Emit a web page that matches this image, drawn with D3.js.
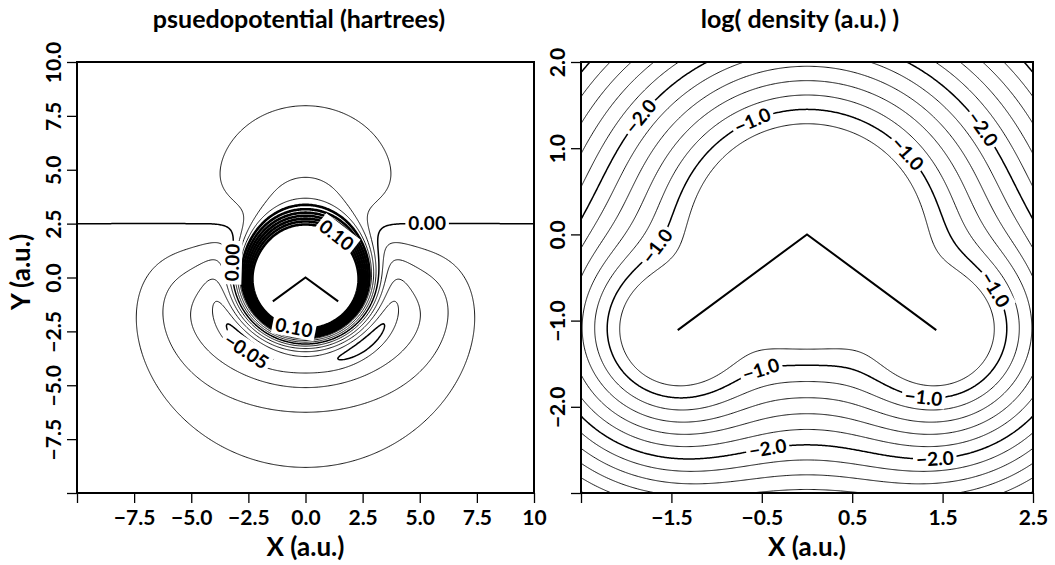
<!DOCTYPE html>
<html>
<head>
<meta charset="utf-8">
<script src="https://cdn.jsdelivr.net/npm/d3@7"></script>
<style>
  body { margin: 0; background: #fff; }
  svg { font-family: Lato, "DejaVu Sans", sans-serif; font-weight: 700; }
</style>
</head>
<body>
<script>
// water molecule, H - O - H (bohr)
const atomX = [-1.43, 0, 1.43]
const atomY = [-1.11, 0, -1.11]

// left panel: pseudopotential (hartrees)
const potLevels = [-0.05, -0.04, -0.03, -0.02, -0.01, 0.00, 0.01, 0.02, 0.03, 0.04, 0.05, 0.06, 0.07, 0.08, 0.09, 0.10]
const potBold = [-0.05, 0.00, 0.05, 0.10]
const potTicksX = [-10, -7.5, -5.0, -2.5, 0.0, 2.5, 5.0, 7.5, 10]
const potTickLabelsX = ["", "−7.5", "−5.0", "−2.5", "0.0", "2.5", "5.0", "7.5", "10"]
const potTicksY = [10, 7.5, 5.0, 2.5, 0.0, -2.5, -5.0, -7.5, -10]
const potTickLabelsY = ["10.0", "7.5", "5.0", "2.5", "0.0", "−2.5", "−5.0", "−7.5", ""]
const potLabels = [
  { level: 0.00, x: 5.3, y: 2.45, text: "0.00" },
  { level: 0.10, x: 1.25, y: 1.8, text: "0.10" },
  { level: 0.00, x: -2.9, y: 0.7, text: "0.00" },
  { level: 0.10, x: -0.5, y: -2.4, text: "0.10" },
  { level: -0.05, x: -2.7, y: -3.6, text: "−0.05" }
]

// fitted model of the potential
const dipoleTop = 0.966, dipoleBottom = 0.74, centerTop = -0.1, centerBottom = 0.6
const zeroLineY = 2.5, soft = 0.5, sideSpread = 0.3, taperR = 3.0
const wallHeight = 0.158, wallStart = 2.0, wallWidth = 1.06, wallTopCut = 0.25
const coreHeight = 0.1, coreR = 1.8
const wellDepth = 0.013, wellR = 4.05, wellAngles = [-2.30, -0.84]

// right panel: log( density )
const densLevels = [-0.8, -1.0, -1.2, -1.4, -1.6, -1.8, -2.0, -2.2, -2.4, -2.6, -2.8, -3.0, -3.2, -3.4]
const densBold = [-1.0, -2.0, -3.0]
const densTicksX = [-2.5, -1.5, -0.5, 0.5, 1.5, 2.5]
const densTickLabelsX = ["", "−1.5", "−0.5", "0.5", "1.5", "2.5"]
const densTicksY = [2.0, 1.0, 0.0, -1.0, -2.0, -3.0]
const densTickLabelsY = ["2.0", "1.0", "0.0", "−1.0", "−2.0", ""]
const densLabels = [
  { level: -2.0, x: -1.81, y: 1.35, text: "−2.0" },
  { level: -1.0, x: -0.6, y: 1.31, text: "−1.0" },
  { level: -2.0, x: 1.92, y: 1.21, text: "−2.0" },
  { level: -1.0, x: 1.13, y: 0.96, text: "−1.0" },
  { level: -1.0, x: -1.68, y: -0.12, text: "−1.0" },
  { level: -1.0, x: 2.07, y: -0.65, text: "−1.0" },
  { level: -1.0, x: -0.5, y: -1.61, text: "−1.0" },
  { level: -1.0, x: 1.29, y: -1.87, text: "−1.0" },
  { level: -2.0, x: -0.43, y: -2.52, text: "−2.0" },
  { level: -2.0, x: 1.42, y: -2.68, text: "−2.0" }
]
// log10 of atomic densities: value at nucleus and fall-off per bohr
const oLog = 0.74, oSlope = 1.2, hLog = 0.12, hSlope = 1.47

function potential(x, y) {
  const r = Math.hypot(x - atomX[1], y - atomY[1])
  const below = 1 / (1 + Math.exp((y - zeroLineY) / 1.5))
  const a = dipoleTop + (dipoleBottom - dipoleTop) * below
  const yc = centerTop + (centerBottom - centerTop) * below
  const spread = 1 + sideSpread * below * Math.exp(-(((r - 6.2) / 1.8) ** 2))
  const R2 = (x / spread) ** 2 + (y - yc) ** 2 + soft * soft
  const taper = 1 - Math.exp(-Math.pow(r / taperR, 4))
  const far = a * (y - zeroLineY) / Math.pow(R2, 1.5) * taper
  const up = ((y / (r || 1)) + 1) / 2
  const wall = wallHeight * (1 - wallTopCut * up * up) *
    Math.exp(-Math.pow(Math.max(0, r - wallStart) / wallWidth, 2))
  const core = coreHeight * Math.exp(-Math.pow(r / coreR, 4))
  let well = 0
  wellAngles.forEach(w => {
    let d = Math.atan2(y, x) - w
    d = Math.atan2(Math.sin(d), Math.cos(d))
    well -= wellDepth * Math.exp(-(((r - wellR) / 0.4) ** 2) - (d / 0.5) ** 2)
  })
  return far + wall + core + well
}

function logDensity(x, y) {
  let rho = 0
  atomX.forEach((ax, i) => {
    const r = Math.hypot(x - ax, y - atomY[i])
    rho += i === 1 ? Math.pow(10, oLog - oSlope * r) : Math.pow(10, hLog - hSlope * r)
  })
  return Math.log10(rho)
}

const svg = d3.select("body").append("svg").attr("width", 1055).attr("height", 565)

function drawPanel(p) {
  const xs = d3.scaleLinear().domain(p.xDomain).range(p.xRange)
  const ys = d3.scaleLinear().domain(p.yDomain).range(p.yRange)
  const n = 420, m = 420
  const x0 = p.xDomain[0], yTop = p.yDomain[0]
  const dx = (p.xDomain[1] - x0) / (n - 1), dy = (yTop - p.yDomain[1]) / (m - 1)
  const values = new Float64Array(n * m)
  for (let j = 0; j < m; j++)
    for (let i = 0; i < n; i++)
      values[i + j * n] = p.field(x0 + i * dx, yTop - j * dy)

  const gridPx = (gx, gy) => [xs(x0 + (gx - 0.5) * dx), ys(yTop - (gy - 0.5) * dy)]
  const path = d3.geoPath(d3.geoTransform({
    point(x, y) { const q = gridPx(x, y); this.stream.point(q[0], q[1]) }
  }))
  const contours = d3.contours().size([n, m]).thresholds(p.levels)(values)
  const isBold = v => p.bold.some(b => Math.abs(b - v) < 1e-9)

  svg.append("clipPath").attr("id", "clip-" + p.name)
    .append("rect")
    .attr("x", p.xRange[0]).attr("y", p.yRange[0])
    .attr("width", p.xRange[1] - p.xRange[0]).attr("height", p.yRange[1] - p.yRange[0])

  const g = svg.append("g").attr("clip-path", `url(#clip-${p.name})`)
  g.selectAll("path.iso").data(contours).join("path")
    .attr("class", "iso")
    .attr("d", path)
    .attr("fill", "none")
    .attr("stroke", "#000")
    .attr("stroke-width", d => d.value >= p.heavyFrom - 1e-9 ? 2.6 : isBold(d.value) ? 1.5 : 0.9)

  g.append("path")
    .datum(d3.range(atomX.length))
    .attr("d", d3.line().x(i => xs(atomX[i])).y(i => ys(atomY[i])))
    .attr("fill", "none").attr("stroke", "#000").attr("stroke-width", 2)

  // contour labels, snapped to the nearest point of their contour
  p.labels.forEach(lb => {
    const c = contours.find(d => Math.abs(d.value - lb.level) < 1e-9)
    const tx = xs(lb.x), ty = ys(lb.y)
    let best = null
    c.coordinates.forEach(poly => poly.forEach(ring => {
      const pts = ring.map(q => gridPx(q[0], q[1]))
      pts.forEach((q, k) => {
        const dd = (q[0] - tx) ** 2 + (q[1] - ty) ** 2
        if (!best || dd < best.dd) best = { dd, pts, k }
      })
    }))
    if (!best) return
    const a = best.pts[Math.max(0, best.k - 3)]
    const b = best.pts[Math.min(best.pts.length - 1, best.k + 3)]
    let ang = Math.atan2(b[1] - a[1], b[0] - a[0]) * 180 / Math.PI
    if (ang >= 90) ang -= 180
    if (ang < -90) ang += 180
    const q = best.pts[best.k]
    const lg = svg.append("g").attr("transform", `translate(${q[0]},${q[1]}) rotate(${ang})`)
    const t = lg.append("text").text(lb.text)
      .attr("text-anchor", "middle").attr("dy", "0.36em").attr("font-size", 19)
    const bb = t.node().getBBox()
    lg.insert("rect", "text")
      .attr("x", bb.x - 3).attr("y", bb.y + 1)
      .attr("width", bb.width + 6).attr("height", bb.height - 2)
      .attr("fill", "#fff")
  })

  // frame
  svg.append("rect")
    .attr("x", p.xRange[0]).attr("y", p.yRange[0])
    .attr("width", p.xRange[1] - p.xRange[0]).attr("height", p.yRange[1] - p.yRange[0])
    .attr("fill", "none").attr("stroke", "#000").attr("stroke-width", 2)

  const ax = svg.append("g")
    .attr("transform", `translate(0,${p.yRange[1]})`)
    .call(d3.axisBottom(xs).tickValues(p.xTicks).tickSize(10).tickFormat((d, i) => p.xTickLabels[i]))
  ax.attr("font-size", null).attr("font-family", null)
  ax.select(".domain").remove()
  ax.selectAll("line").attr("stroke-width", 1.3)
  ax.selectAll("text").attr("y", 32).attr("dy", 0).attr("font-size", 21).attr("fill", "#000")

  const ay = svg.append("g")
    .attr("transform", `translate(${p.xRange[0]},0)`)
    .call(d3.axisLeft(ys).tickValues(p.yTicks).tickSize(10).tickFormat((d, i) => p.yTickLabels[i]))
  ay.attr("font-size", null).attr("font-family", null)
  ay.select(".domain").remove()
  ay.selectAll("line").attr("stroke-width", 1.3)
  ay.selectAll("text")
    .attr("transform", "rotate(-90)")
    .attr("x", 0).attr("y", -16).attr("dy", 0)
    .attr("text-anchor", "middle").attr("font-size", 21).attr("fill", "#000")

  svg.append("text")
    .attr("x", p.titleX).attr("y", 28)
    .attr("text-anchor", "middle").attr("font-size", 25)
    .text(p.title)
  svg.append("text")
    .attr("x", (p.xRange[0] + p.xRange[1]) / 2).attr("y", 556)
    .attr("text-anchor", "middle").attr("font-size", 26)
    .text("X (a.u.)")
}

drawPanel({
  name: "pot", title: "psuedopotential (hartrees)", titleX: 299,
  xDomain: [-10, 10], yDomain: [10, -10],
  xRange: [77, 534], yRange: [62, 493],
  field: potential, levels: potLevels, bold: potBold, heavyFrom: 0.04, labels: potLabels,
  xTicks: potTicksX, xTickLabels: potTickLabelsX,
  yTicks: potTicksY, yTickLabels: potTickLabelsY
})

drawPanel({
  name: "dens", title: "log( density (a.u.) )", titleX: 800,
  xDomain: [-2.5, 2.5], yDomain: [2, -3],
  xRange: [581, 1033], yRange: [62, 493],
  field: logDensity, levels: densLevels, bold: densBold, heavyFrom: Infinity, labels: densLabels,
  xTicks: densTicksX, xTickLabels: densTickLabelsX,
  yTicks: densTicksY, yTickLabels: densTickLabelsY
})

svg.append("text")
  .attr("transform", "translate(30,272) rotate(-90)")
  .attr("text-anchor", "middle").attr("font-size", 26)
  .text("Y (a.u.)")
</script>
</body>
</html>
